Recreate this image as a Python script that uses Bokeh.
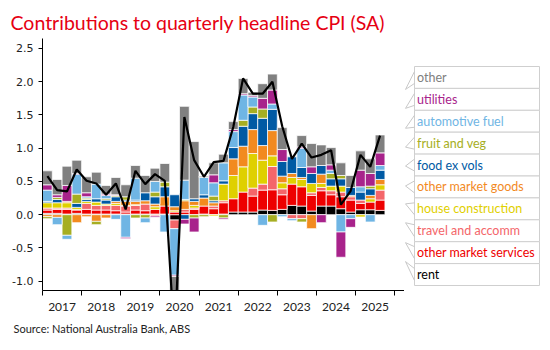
import numpy as np
from bokeh.plotting import figure
from bokeh.layouts import row
from bokeh.models import Range1d, FixedTicker, NumeralTickFormatter, Title
from bokeh.embed import file_html
from bokeh.resources import INLINE
from bokeh.core.properties import value

# ---------------- data (2017Q1 .. 2025Q3), percentage-point contributions ----------------
quarters = ["2017Q1", "2017Q2", "2017Q3", "2017Q4", "2018Q1", "2018Q2", "2018Q3", "2018Q4",
            "2019Q1", "2019Q2", "2019Q3", "2019Q4", "2020Q1", "2020Q2", "2020Q3", "2020Q4",
            "2021Q1", "2021Q2", "2021Q3", "2021Q4", "2022Q1", "2022Q2", "2022Q3", "2022Q4",
            "2023Q1", "2023Q2", "2023Q3", "2023Q4", "2024Q1", "2024Q2", "2024Q3", "2024Q4",
            "2025Q1", "2025Q2", "2025Q3"]

rent = [0.02, 0.02, 0.01, 0.02, 0.01, 0.01, 0.01, 0.01, 0.01, 0.01, 0.01, 0.01, 0.01, -0.08, 0.00, 0.00,
        0.01, 0.00, 0.01, 0.04, 0.04, 0.04, 0.07, 0.065, 0.08, 0.14, 0.13, 0.055, 0.13, 0.13, 0.09, 0.04,
        0.075, 0.075, 0.065]
other_market_services = [0.05, 0.06, 0.07, 0.05, 0.07, 0.06, 0.06, 0.05, 0.03, 0.06, 0.05, 0.07, 0.12, 0.04, 0.04, 0.08,
                         0.12, 0.09, 0.17, 0.20, 0.30, 0.24, 0.30, 0.31, 0.22, 0.32, 0.29, 0.235, 0.23, 0.17, 0.18, 0.18,
                         0.095, 0.115, 0.155]
travel_accomm = [0.03, 0.02, 0.02, 0.01, 0.09, 0.07, 0.07, 0.08, 0.09, 0.07, 0.10, -0.02, 0.00, -0.13, 0.04, 0.02,
                 0.00, 0.04, 0.03, 0.00, 0.00, 0.12, 0.09, 0.35, 0.09, -0.06, -0.06, 0.04, 0.05, 0.06, 0.07, 0.05,
                 0.05, 0.00, 0.15]
house_construction = [0.08, 0.08, 0.08, 0.03, 0.03, 0.05, 0.02, 0.03, 0.01, 0.01, 0.00, 0.04, 0.00, 0.02, 0.00, 0.04,
                      0.00, -0.02, 0.25, 0.35, 0.38, 0.52, 0.36, 0.16, 0.09, 0.10, 0.11, 0.14, 0.06, 0.07, 0.09, 0.00,
                      -0.035, 0.05, 0.08]
other_market_goods = [-0.03, -0.04, 0.02, -0.12, -0.03, -0.10, -0.05, 0.03, 0.06, 0.05, 0.05, 0.04, 0.14, 0.06, 0.13, 0.06,
                      0.12, 0.05, 0.00, 0.25, 0.31, 0.36, 0.22, 0.38, 0.10, 0.06, 0.03, -0.21, 0.14, 0.00, 0.00, 0.02,
                      0.00, 0.05, 0.08]
food_ex_vols = [0.02, 0.05, 0.00, 0.06, 0.03, 0.05, 0.06, 0.07, 0.02, 0.02, 0.12, 0.11, 0.15, 0.18, -0.07, 0.04,
                0.05, 0.03, 0.05, 0.17, 0.30, 0.24, 0.41, 0.32, 0.22, 0.25, 0.15, 0.15, 0.13, 0.11, 0.11, 0.12,
                0.12, 0.10, 0.14]
fruit_veg = [-0.03, 0.03, -0.31, 0.14, 0.02, -0.05, 0.02, 0.02, 0.05, -0.05, -0.05, 0.07, 0.07, 0.00, 0.02, -0.05,
             -0.03, 0.07, -0.05, 0.00, 0.09, 0.10, 0.14, -0.11, 0.00, 0.00, -0.05, 0.00, 0.00, 0.08, 0.05, 0.00,
             0.00, 0.04, 0.00]
automotive_fuel = [0.17, -0.11, -0.06, 0.30, 0.02, 0.22, 0.05, -0.07, -0.34, 0.33, -0.07, 0.16, -0.26, -0.70, 0.29, 0.00,
                   0.26, 0.20, 0.27, 0.24, 0.38, 0.15, -0.16, 0.08, -0.03, -0.03, 0.29, 0.00, 0.00, 0.05, -0.26, -0.06,
                   0.08, -0.11, 0.07]
utilities = [0.08, 0.04, 0.24, 0.01, 0.06, 0.00, 0.02, 0.01, -0.02, 0.00, 0.00, -0.02, 0.00, -0.02, -0.07, -0.21,
             0.00, 0.12, -0.02, 0.03, 0.02, 0.02, 0.16, 0.21, 0.18, 0.00, 0.02, 0.10, -0.12, 0.08, -0.38, -0.13,
             0.25, 0.19, 0.19]
other = [0.21, 0.23, 0.29, 0.20, 0.24, 0.18, 0.13, 0.26, 0.18, 0.19, 0.26, 0.20, 0.28, -1.30, 1.11, 0.86,
         0.02, 0.18, 0.13, 0.12, 0.23, 0.05, 0.22, 0.24, 0.33, 0.00, 0.17, 0.35, 0.31, 0.26, 0.19, 0.18,
         0.29, 0.22, 0.27]
headline = [0.58, 0.37, 0.35, 0.68, 0.51, 0.47, 0.30, 0.47, 0.08, 0.66, 0.46, 0.61, 0.51, -1.90, 1.47, 0.82,
            0.57, 0.79, 0.81, 1.32, 2.05, 1.82, 1.82, 2.00, 1.33, 0.84, 1.07, 0.86, 0.90, 0.97, 0.15, 0.36,
            0.90, 0.72, 1.19]

year_labels = ["2017", "2018", "2019", "2020", "2021", "2022", "2023", "2024", "2025"]
y_ticks = [-1.0, -0.5, 0.0, 0.5, 1.0, 1.5, 2.0, 2.5]

# bottom-to-top stacking order
series = [
    ("rent", rent, "#000000"),
    ("other market services", other_market_services, "#ee0000"),
    ("travel and accomm", travel_accomm, "#f4666a"),
    ("house construction", house_construction, "#dfd000"),
    ("other market goods", other_market_goods, "#f28a1f"),
    ("food ex vols", food_ex_vols, "#005aa4"),
    ("fruit and veg", fruit_veg, "#a6ae22"),
    ("automotive fuel", automotive_fuel, "#6fb5e4"),
    ("utilities", utilities, "#a8238b"),
    ("other", other, "#808080"),
]

# ---------------- main chart ----------------
FRAME_TOP, FRAME_BOTTOM = 38, 290
first_year = int(year_labels[0])
n = len(quarters)
xs = first_year + 0.25 * np.arange(n) + 0.125

p = figure(width=404, height=350, x_range=Range1d(first_year, first_year + 9.25),
           y_range=Range1d(-1.14, 2.65), toolbar_location=None, output_backend="svg",
           min_border_left=42, min_border_right=0, min_border_top=FRAME_TOP,
           min_border_bottom=350 - FRAME_BOTTOM,
           background_fill_color="white", border_fill_color="white")
p.outline_line_color = None
p.xgrid.visible = False
p.ygrid.visible = False

pos_base = np.zeros(n)
neg_base = np.zeros(n)
for name, vals, color in series:
    v = np.array(vals, dtype=float)
    pos = np.where(v > 0, v, 0.0)
    neg = np.where(v < 0, v, 0.0)
    bottom = np.where(v >= 0, pos_base, neg_base + neg)
    top = np.where(v >= 0, pos_base + pos, neg_base)
    m = v != 0
    p.vbar(x=xs[m], width=0.25, bottom=bottom[m], top=top[m], fill_color=color,
           line_color="white", line_width=1, line_alpha=0.75)
    pos_base += pos
    neg_base += neg

p.line(xs, headline, line_color="black", line_width=2.2)

# x axis: labels centred in the year, ticks at year boundaries
mid_ticks = [int(y) + 0.5 for y in year_labels]
bound_ticks = [int(y) for y in year_labels] + [int(year_labels[-1]) + 1]
p.xaxis.ticker = FixedTicker(ticks=mid_ticks, minor_ticks=bound_ticks)
p.xaxis.major_label_overrides = {t: lab for t, lab in zip(mid_ticks, year_labels)}
p.xaxis.major_tick_line_color = None
p.xaxis.major_tick_out = 0
p.xaxis.major_tick_in = 0
p.xaxis.minor_tick_out = 5
p.xaxis.minor_tick_in = 0
p.xaxis.minor_tick_line_color = "black"
p.xaxis.axis_line_color = "black"
p.xaxis.major_label_text_font = "Lato"
p.xaxis.major_label_text_font_size = "12px"
p.xaxis.major_label_text_color = "#222222"
p.xaxis.major_label_standoff = 7

p.yaxis.ticker = FixedTicker(ticks=y_ticks)
p.yaxis.formatter = NumeralTickFormatter(format="0.0")
p.yaxis.minor_tick_line_color = None
p.yaxis.major_tick_out = 4
p.yaxis.major_tick_in = 0
p.yaxis.axis_line_color = "black"
p.yaxis.major_tick_line_color = "black"
p.yaxis.major_label_text_font = "DejaVu Sans"
p.yaxis.major_label_text_font_size = "11px"
p.yaxis.major_label_text_color = "#222222"
p.yaxis.major_label_standoff = 5

p.title.text = "Contributions to quarterly headline CPI (SA)"
p.title.text_font = "Lato"
p.title.text_font_size = "19.5px"
p.title.text_font_style = "normal"
p.title.text_color = "#e60012"
p.title.align = "left"
p.title.offset = -32

p.add_layout(Title(text="Source: National Australia Bank, ABS", align="left", offset=-29,
                   text_font="Lato", text_font_size="11px", text_font_style="normal",
                   text_color="#222222", standoff=12), "below")

# ---------------- callout legend (page pixel coordinates) ----------------
# the row layout aligns this frame with the main frame (FRAME_TOP..FRAME_BOTTOM)
q = figure(width=146, height=350, x_range=Range1d(404, 550),
           y_range=Range1d(FRAME_BOTTOM, FRAME_TOP),
           toolbar_location=None, output_backend="svg", min_border=0,
           background_fill_color="white", border_fill_color="white")
q.outline_line_color = None
q.axis.visible = False
q.grid.visible = False

labels = [s[0] for s in series][::-1]
colors = [s[2] for s in series][::-1]
row_top0, row_h = 66.0, 21.9
box_l, box_r, tip_x = 414.0, 539.0, 405.0
tops = [row_top0 + row_h * k for k in range(len(labels))]
centres = [t + row_h / 2 for t in tops]
tip_shift = [12, 9, 7, 4, 1, -1, -5, -8, -10, -13]

q.quad(left=box_l, right=box_r, top=tops, bottom=[t + row_h for t in tops],
       fill_color="white", line_color="#cfcfcf", line_width=1)
q.multi_line(xs=[[box_l, tip_x, box_l] for _ in labels],
             ys=[[c - 6, c + s, c + 6] for c, s in zip(centres, tip_shift)],
             line_color="#c8c8c8", line_width=1)
q.text(x=box_l + 2.5, y=centres, text=labels, text_color=colors, text_baseline="middle",
       text_font=value("Lato"), text_font_size="12.5px")

layout = row(p, q)
open("out.html", "w").write(file_html(layout, INLINE))
